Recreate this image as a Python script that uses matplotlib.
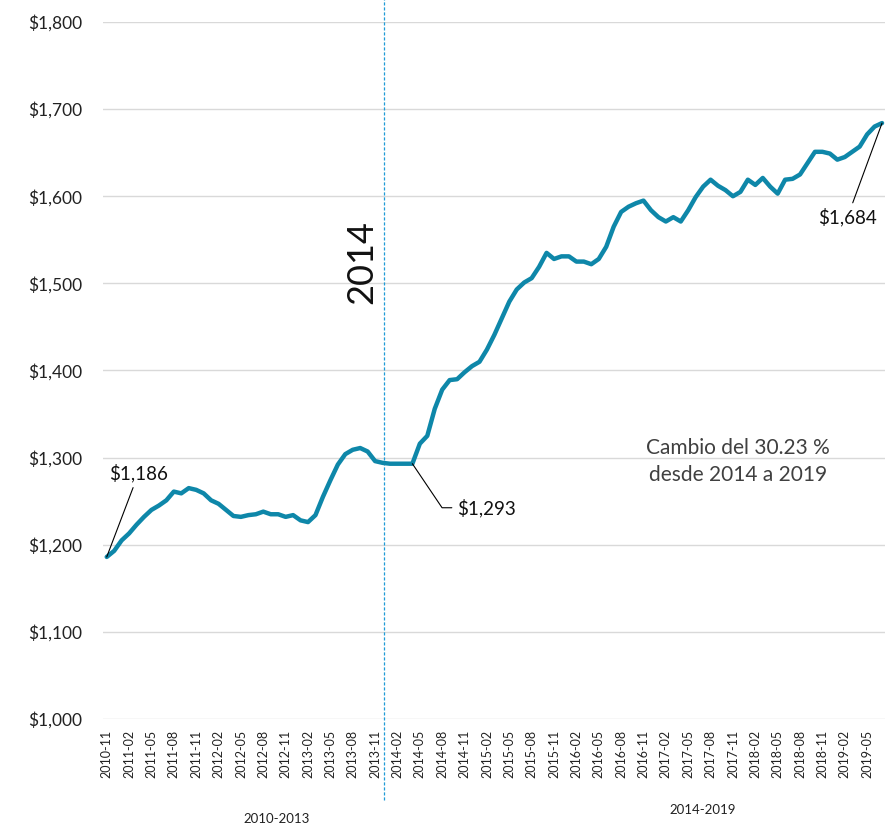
import numpy as np
import pandas as pd
import matplotlib
matplotlib.use("Agg")
import matplotlib.pyplot as plt

plt.rcParams['font.family'] = ['Lato', 'DejaVu Sans']

# monthly values, 2010-11 .. 2019-07
months = pd.period_range("2010-11", periods=105, freq="M").strftime("%Y-%m").tolist()
values = [1186, 1193, 1205, 1213, 1223, 1232, 1240, 1245, 1251, 1261,
          1259, 1265, 1263, 1259, 1251, 1247, 1240, 1233, 1232, 1234,
          1235, 1238, 1235, 1235, 1232, 1234, 1228, 1226, 1234, 1255,
          1274, 1292, 1304, 1309, 1311, 1307, 1296, 1294, 1293, 1293,
          1293, 1293, 1316, 1325, 1356, 1378, 1389, 1390, 1398, 1405,
          1410, 1424, 1441, 1460, 1479, 1493, 1501, 1506, 1519, 1535,
          1528, 1531, 1531, 1525, 1525, 1522, 1528, 1542, 1565, 1582,
          1588, 1592, 1595, 1584, 1576, 1571, 1576, 1571, 1584, 1599,
          1611, 1619, 1612, 1607, 1600, 1605, 1619, 1613, 1621, 1611,
          1603, 1619, 1620, 1625, 1638, 1651, 1651, 1649, 1642, 1645,
          1651, 1657, 1671, 1680, 1684]
yticks = [1000, 1100, 1200, 1300, 1400, 1500, 1600, 1700, 1800]
groups = ["2010-2013", "2014-2019"]
split_pos = 37.2   # between 2013-12 and 2014-01
callouts = {"start": 0, "flat": 41, "end": 104}

x = np.arange(len(values))
line_color = "#0E87A9"

fig = plt.figure(figsize=(8.91, 8.27), dpi=100)
ax = fig.add_axes([0.1156, 0.1306, 0.8777, 0.8428])

ax.plot(x, values, color=line_color, lw=3.2, solid_joinstyle="round", solid_capstyle="round", zorder=3)

ax.set_xlim(-0.5, 104.4)
ax.set_ylim(1000, 1800)
ax.set_yticks(yticks)
ax.set_yticklabels([f"${v:,}" for v in yticks], fontsize=12.5, color="#222222")
ax.yaxis.grid(True, color="#D9D9D9", lw=1)
ax.set_axisbelow(True)
for s in ax.spines.values():
    s.set_visible(False)
ax.tick_params(axis="both", length=0)
ax.tick_params(axis="y", pad=15)
ax.tick_params(axis="x", pad=8)

ticks = x[::3]
ax.set_xticks(ticks)
ax.set_xticklabels([months[i] for i in ticks], rotation=90, fontsize=9, color="#222222")

# separator line
ax.axvline(split_pos, ymin=-0.116, ymax=1.05, color="#1E9BD7", lw=0.9,
           ls=(0, (2.5, 1.5)), clip_on=False, zorder=2)
ax.text(34.2, 1524, "2014", rotation=90, fontsize=26, ha="center", va="center", color="#111111")

fig.text(277 / 891, 1 - 819 / 827, groups[0], fontsize=9.5, ha="center", va="center", color="#222222")
fig.text(703 / 891, 1 - 810 / 827, groups[1], fontsize=9.5, ha="center", va="center", color="#222222")

ax.text(0.812, 0.369, "Cambio del 30.23 %\ndesde 2014 a 2019", transform=ax.transAxes,
        fontsize=15, ha="center", va="center", color="#404040", linespacing=1.45)

# callouts
lp = dict(arrowstyle="-", color="black", lw=0.8, shrinkB=0)
i = callouts["start"]
ax.annotate(f"${values[i]:,}", (x[i], values[i]), xytext=(23, 60.5), textcoords="offset points",
            ha="center", va="center", fontsize=13.5, color="#111111", arrowprops=lp)
i = callouts["flat"]
ax.annotate(f"${values[i]:,}", (x[i], values[i]), xytext=(32.4, -31.7), textcoords="offset points",
            ha="left", va="center", fontsize=13.5, color="#111111",
            arrowprops=dict(lp, relpos=(0, 0.5), connectionstyle="angle,angleA=0,angleB=-56,rad=0"))
i = callouts["end"]
ax.annotate(f"${values[i]:,}", (x[i], values[i]), xytext=(-25, -68), textcoords="offset points",
            ha="center", va="center", fontsize=13.5, color="#111111", arrowprops=lp)

fig.savefig("out.png", dpi=100, facecolor="white")
